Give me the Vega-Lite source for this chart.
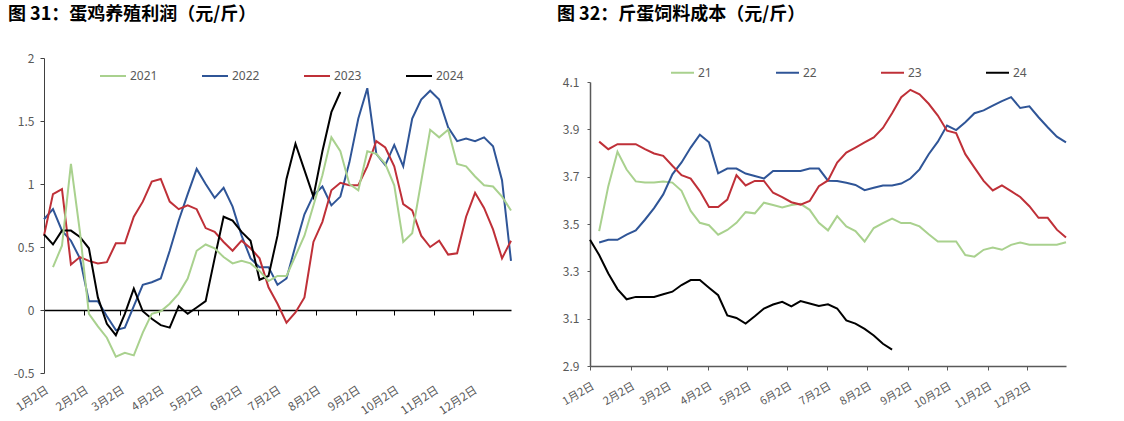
{
  "$schema": "https://vega.github.io/schema/vega-lite/v6.json",
  "background": "white",
  "padding": {"left": 8, "top": 6, "right": 0, "bottom": 0},
  "spacing": 42,
  "bounds": "full",
  "config": {
    "view": {"stroke": null},
    "locale": {"number": {"decimal": ".", "thousands": ",", "grouping": [3], "currency": ["", ""], "minus": "-"}},
    "axis": {"labelFont": "Noto Sans CJK SC", "labelFontSize": 12, "labelColor": "#595959", "domainColor": "#595959", "tickColor": "#595959", "grid": false, "title": null, "labelOverlap": false}
  },
  "datasets": {
    "profit": [
      {"d": "2023/01/02", "2021": null, "2022": 0.72, "2023": 0.59, "2024": 0.60},
      {"d": "2023/01/09", "2021": 0.34, "2022": 0.80, "2023": 0.92, "2024": 0.52},
      {"d": "2023/01/16", "2021": 0.51, "2022": 0.63, "2023": 0.96, "2024": 0.63},
      {"d": "2023/01/23", "2021": 1.16, "2022": 0.55, "2023": 0.36, "2024": 0.63},
      {"d": "2023/01/30", "2021": 0.62, "2022": 0.41, "2023": 0.42, "2024": 0.58},
      {"d": "2023/02/06", "2021": -0.03, "2022": 0.07, "2023": 0.39, "2024": 0.49},
      {"d": "2023/02/13", "2021": -0.13, "2022": 0.07, "2023": 0.37, "2024": 0.10},
      {"d": "2023/02/20", "2021": -0.22, "2022": -0.05, "2023": 0.38, "2024": -0.11},
      {"d": "2023/02/27", "2021": -0.37, "2022": -0.16, "2023": 0.53, "2024": -0.20},
      {"d": "2023/03/06", "2021": -0.34, "2022": -0.14, "2023": 0.53, "2024": -0.03},
      {"d": "2023/03/13", "2021": -0.36, "2022": 0.03, "2023": 0.74, "2024": 0.17},
      {"d": "2023/03/20", "2021": -0.18, "2022": 0.20, "2023": 0.86, "2024": -0.01},
      {"d": "2023/03/27", "2021": -0.03, "2022": 0.22, "2023": 1.02, "2024": -0.07},
      {"d": "2023/04/03", "2021": -0.01, "2022": 0.25, "2023": 1.04, "2024": -0.12},
      {"d": "2023/04/10", "2021": 0.05, "2022": 0.47, "2023": 0.86, "2024": -0.14},
      {"d": "2023/04/17", "2021": 0.13, "2022": 0.71, "2023": 0.80, "2024": 0.03},
      {"d": "2023/04/24", "2021": 0.25, "2022": 0.92, "2023": 0.83, "2024": -0.03},
      {"d": "2023/05/01", "2021": 0.47, "2022": 1.12, "2023": 0.80, "2024": 0.02},
      {"d": "2023/05/08", "2021": 0.52, "2022": 1.00, "2023": 0.65, "2024": 0.07},
      {"d": "2023/05/15", "2021": 0.49, "2022": 0.89, "2023": 0.62, "2024": 0.41},
      {"d": "2023/05/22", "2021": 0.42, "2022": 0.97, "2023": 0.54, "2024": 0.74},
      {"d": "2023/05/29", "2021": 0.37, "2022": 0.82, "2023": 0.47, "2024": 0.71},
      {"d": "2023/06/05", "2021": 0.39, "2022": 0.59, "2023": 0.55, "2024": 0.62},
      {"d": "2023/06/12", "2021": 0.37, "2022": 0.41, "2023": 0.49, "2024": 0.55},
      {"d": "2023/06/19", "2021": 0.31, "2022": 0.34, "2023": 0.41, "2024": 0.24},
      {"d": "2023/06/26", "2021": 0.23, "2022": 0.34, "2023": 0.18, "2024": 0.27},
      {"d": "2023/07/03", "2021": 0.27, "2022": 0.20, "2023": 0.05, "2024": 0.59},
      {"d": "2023/07/10", "2021": 0.27, "2022": 0.25, "2023": -0.10, "2024": 1.04},
      {"d": "2023/07/17", "2021": 0.43, "2022": 0.51, "2023": -0.02, "2024": 1.32},
      {"d": "2023/07/24", "2021": 0.59, "2022": 0.76, "2023": 0.10, "2024": 1.11},
      {"d": "2023/07/31", "2021": 0.83, "2022": 0.91, "2023": 0.54, "2024": 0.90},
      {"d": "2023/08/07", "2021": 1.07, "2022": 0.98, "2023": 0.70, "2024": 1.26},
      {"d": "2023/08/14", "2021": 1.37, "2022": 0.83, "2023": 0.95, "2024": 1.57},
      {"d": "2023/08/21", "2021": 1.26, "2022": 0.90, "2023": 1.01, "2024": 1.73},
      {"d": "2023/08/28", "2021": 1.00, "2022": 1.17, "2023": 0.99, "2024": null},
      {"d": "2023/09/04", "2021": 0.95, "2022": 1.52, "2023": 0.99, "2024": null},
      {"d": "2023/09/11", "2021": 1.26, "2022": 1.76, "2023": 1.14, "2024": null},
      {"d": "2023/09/18", "2021": 1.24, "2022": 1.24, "2023": 1.34, "2024": null},
      {"d": "2023/09/25", "2021": 1.16, "2022": 1.15, "2023": 1.29, "2024": null},
      {"d": "2023/10/02", "2021": 0.99, "2022": 1.31, "2023": 1.14, "2024": null},
      {"d": "2023/10/09", "2021": 0.54, "2022": 1.14, "2023": 0.84, "2024": null},
      {"d": "2023/10/16", "2021": 0.61, "2022": 1.52, "2023": 0.79, "2024": null},
      {"d": "2023/10/23", "2021": null, "2022": 1.67, "2023": 0.59, "2024": null},
      {"d": "2023/10/30", "2021": 1.43, "2022": 1.74, "2023": 0.50, "2024": null},
      {"d": "2023/11/06", "2021": 1.37, "2022": 1.67, "2023": 0.55, "2024": null},
      {"d": "2023/11/13", "2021": 1.43, "2022": 1.45, "2023": 0.44, "2024": null},
      {"d": "2023/11/20", "2021": 1.16, "2022": 1.34, "2023": 0.45, "2024": null},
      {"d": "2023/11/27", "2021": 1.14, "2022": 1.36, "2023": 0.74, "2024": null},
      {"d": "2023/12/04", "2021": 1.06, "2022": 1.34, "2023": 0.93, "2024": null},
      {"d": "2023/12/11", "2021": 0.99, "2022": 1.37, "2023": 0.81, "2024": null},
      {"d": "2023/12/18", "2021": 0.98, "2022": 1.30, "2023": 0.64, "2024": null},
      {"d": "2023/12/25", "2021": 0.90, "2022": 1.03, "2023": 0.41, "2024": null},
      {"d": "2024/01/01", "2021": 0.79, "2022": 0.39, "2023": 0.55, "2024": null}
    ],
    "cost": [
      {"d": "2023/01/02", "21": null, "22": null, "23": null, "24": 3.433},
      {"d": "2023/01/09", "21": 3.47, "22": 3.422, "23": 3.848, "24": 3.369},
      {"d": "2023/01/16", "21": 3.66, "22": 3.433, "23": 3.816, "24": 3.291},
      {"d": "2023/01/23", "21": 3.805, "22": 3.433, "23": 3.837, "24": 3.225},
      {"d": "2023/01/30", "21": 3.73, "22": 3.455, "23": 3.837, "24": 3.182},
      {"d": "2023/02/06", "21": 3.68, "22": 3.473, "23": 3.837, "24": 3.192},
      {"d": "2023/02/13", "21": 3.675, "22": 3.518, "23": 3.816, "24": 3.192},
      {"d": "2023/02/20", "21": 3.675, "22": 3.567, "23": 3.798, "24": 3.192},
      {"d": "2023/02/27", "21": 3.68, "22": 3.625, "23": 3.788, "24": 3.203},
      {"d": "2023/03/06", "21": 3.675, "22": 3.71, "23": 3.746, "24": 3.214},
      {"d": "2023/03/13", "21": 3.64, "22": 3.76, "23": 3.706, "24": 3.242},
      {"d": "2023/03/20", "21": 3.555, "22": 3.823, "23": 3.692, "24": 3.263},
      {"d": "2023/03/27", "21": 3.505, "22": 3.877, "23": 3.639, "24": 3.263},
      {"d": "2023/04/03", "21": 3.495, "22": 3.845, "23": 3.572, "24": 3.231},
      {"d": "2023/04/10", "21": 3.455, "22": 3.714, "23": 3.572, "24": 3.199},
      {"d": "2023/04/17", "21": 3.475, "22": 3.734, "23": 3.603, "24": 3.114},
      {"d": "2023/04/24", "21": 3.505, "22": 3.734, "23": 3.706, "24": 3.103},
      {"d": "2023/05/01", "21": 3.55, "22": 3.713, "23": 3.663, "24": 3.079},
      {"d": "2023/05/08", "21": 3.545, "22": 3.703, "23": 3.682, "24": 3.11},
      {"d": "2023/05/15", "21": 3.59, "22": 3.692, "23": 3.682, "24": 3.143},
      {"d": "2023/05/22", "21": 3.58, "22": 3.724, "23": 3.632, "24": 3.16},
      {"d": "2023/05/29", "21": 3.57, "22": 3.724, "23": 3.614, "24": 3.171},
      {"d": "2023/06/05", "21": 3.58, "22": 3.724, "23": 3.592, "24": 3.152},
      {"d": "2023/06/12", "21": 3.585, "22": 3.724, "23": 3.582, "24": 3.174},
      {"d": "2023/06/19", "21": 3.56, "22": 3.734, "23": 3.597, "24": 3.164},
      {"d": "2023/06/26", "21": 3.505, "22": 3.734, "23": 3.66, "24": 3.154},
      {"d": "2023/07/03", "21": 3.473, "22": 3.683, "23": 3.684, "24": 3.161},
      {"d": "2023/07/10", "21": 3.533, "22": 3.682, "23": 3.76, "24": 3.143},
      {"d": "2023/07/17", "21": 3.49, "22": 3.674, "23": 3.802, "24": 3.093},
      {"d": "2023/07/24", "21": 3.47, "22": 3.665, "23": 3.823, "24": 3.079},
      {"d": "2023/07/31", "21": 3.426, "22": 3.643, "23": 3.845, "24": 3.057},
      {"d": "2023/08/07", "21": 3.483, "22": 3.653, "23": 3.866, "24": 3.029},
      {"d": "2023/08/14", "21": 3.504, "22": 3.663, "23": 3.906, "24": 2.994},
      {"d": "2023/08/21", "21": 3.523, "22": 3.663, "23": 3.968, "24": 2.969},
      {"d": "2023/08/28", "21": 3.504, "22": 3.671, "23": 4.036, "24": null},
      {"d": "2023/09/04", "21": 3.504, "22": 3.692, "23": 4.067, "24": null},
      {"d": "2023/09/11", "21": 3.49, "22": 3.731, "23": 4.048, "24": null},
      {"d": "2023/09/18", "21": 3.457, "22": 3.795, "23": 4.008, "24": null},
      {"d": "2023/09/25", "21": 3.426, "22": 3.848, "23": 3.958, "24": null},
      {"d": "2023/10/02", "21": 3.426, "22": 3.916, "23": 3.894, "24": null},
      {"d": "2023/10/09", "21": 3.426, "22": 3.897, "23": 3.884, "24": null},
      {"d": "2023/10/16", "21": 3.369, "22": 3.93, "23": 3.795, "24": null},
      {"d": "2023/10/23", "21": 3.362, "22": 3.968, "23": 3.738, "24": null},
      {"d": "2023/10/30", "21": 3.391, "22": 3.98, "23": 3.682, "24": null},
      {"d": "2023/11/06", "21": 3.401, "22": 4.0, "23": 3.642, "24": null},
      {"d": "2023/11/13", "21": 3.391, "22": 4.019, "23": 3.663, "24": null},
      {"d": "2023/11/20", "21": 3.412, "22": 4.036, "23": 3.639, "24": null},
      {"d": "2023/11/27", "21": 3.422, "22": 3.99, "23": 3.614, "24": null},
      {"d": "2023/12/04", "21": 3.412, "22": 3.997, "23": 3.575, "24": null},
      {"d": "2023/12/11", "21": 3.412, "22": 3.951, "23": 3.526, "24": null},
      {"d": "2023/12/18", "21": 3.412, "22": 3.909, "23": 3.526, "24": null},
      {"d": "2023/12/25", "21": 3.412, "22": 3.869, "23": 3.476, "24": null},
      {"d": "2024/01/01", "21": 3.423, "22": 3.845, "23": 3.443, "24": null}
    ]
  },
  "hconcat": [
    {
      "width": 467,
      "height": 315,
      "title": {"text": "图 31：蛋鸡养殖利润（元/斤）", "anchor": "start", "frame": "group", "dx": -36, "offset": 28, "fontSize": 18, "font": "Noto Sans CJK SC", "fontWeight": "bold", "color": "#000000"},
      "data": {"name": "profit"},
      "transform": [
        {"fold": ["2021", "2022", "2023", "2024"], "as": ["s", "v"]},
        {"filter": "isValid(datum.v)"}
      ],
      "mark": {"type": "line", "strokeWidth": 2},
      "encoding": {
        "x": {
          "field": "d", "type": "temporal",
          "scale": {"domain": [{"year": 2023, "month": 1, "date": 2}, {"year": 2024, "month": 1, "date": 1}], "nice": false},
          "axis": {
            "values": [
              {"year": 2023, "month": 1, "date": 2}, {"year": 2023, "month": 2, "date": 2}, {"year": 2023, "month": 3, "date": 2},
              {"year": 2023, "month": 4, "date": 2}, {"year": 2023, "month": 5, "date": 2}, {"year": 2023, "month": 6, "date": 2},
              {"year": 2023, "month": 7, "date": 2}, {"year": 2023, "month": 8, "date": 2}, {"year": 2023, "month": 9, "date": 2},
              {"year": 2023, "month": 10, "date": 2}, {"year": 2023, "month": 11, "date": 2}, {"year": 2023, "month": 12, "date": 2}
            ],
            "format": "%-m月%-d日", "labelAngle": -33, "labelFontSize": 11.5, "offset": -63, "tickSize": 5, "labelPadding": 69,
            "domainColor": "#000000", "tickColor": "#000000", "domainWidth": 1.5
          }
        },
        "y": {
          "field": "v", "type": "quantitative",
          "scale": {"domain": [-0.5, 2], "nice": false},
          "axis": {"values": [-0.5, 0, 0.5, 1, 1.5, 2], "format": "~g", "tickSize": 4, "labelPadding": 6, "domainColor": "#404040", "tickColor": "#404040"}
        },
        "color": {
          "field": "s", "type": "nominal",
          "scale": {"domain": ["2021", "2022", "2023", "2024"], "range": ["#A9D18E", "#2F5597", "#BF3038", "#000000"]},
          "legend": {"orient": "none", "legendX": 55, "legendY": 4, "direction": "horizontal", "columns": 4, "columnPadding": 40, "symbolType": "stroke", "symbolSize": 676, "symbolStrokeWidth": 2, "labelFont": "Noto Sans", "labelFontSize": 12, "labelColor": "#595959", "labelOffset": 3, "title": null}
        }
      }
    },
    {
      "width": 476,
      "height": 308,
      "title": {"text": "图 32：斤蛋饲料成本（元/斤）", "anchor": "start", "frame": "group", "dx": -33, "offset": 34, "fontSize": 18, "font": "Noto Sans CJK SC", "fontWeight": "bold", "color": "#000000"},
      "data": {"name": "cost"},
      "transform": [
        {"fold": ["21", "22", "23", "24"], "as": ["s", "v"]},
        {"filter": "isValid(datum.v)"}
      ],
      "mark": {"type": "line", "strokeWidth": 2},
      "encoding": {
        "x": {
          "field": "d", "type": "temporal",
          "scale": {"domain": [{"year": 2023, "month": 1, "date": 2}, {"year": 2024, "month": 1, "date": 1}], "nice": false},
          "axis": {
            "values": [
              {"year": 2023, "month": 1, "date": 2}, {"year": 2023, "month": 2, "date": 2}, {"year": 2023, "month": 3, "date": 2},
              {"year": 2023, "month": 4, "date": 2}, {"year": 2023, "month": 5, "date": 2}, {"year": 2023, "month": 6, "date": 2},
              {"year": 2023, "month": 7, "date": 2}, {"year": 2023, "month": 8, "date": 2}, {"year": 2023, "month": 9, "date": 2},
              {"year": 2023, "month": 10, "date": 2}, {"year": 2023, "month": 11, "date": 2}, {"year": 2023, "month": 12, "date": 2}
            ],
            "format": "%-m月%-d日", "labelAngle": -30, "labelFontSize": 11, "tickSize": 4, "labelPadding": 10, "domainWidth": 1.5
          }
        },
        "y": {
          "field": "v", "type": "quantitative",
          "scale": {"domain": [2.9, 4.1], "nice": false, "range": [308, 24]},
          "axis": {"values": [2.9, 3.1, 3.3, 3.5, 3.7, 3.9, 4.1], "format": ".1f", "tickSize": 3, "labelPadding": 8, "domainWidth": 1.5}
        },
        "color": {
          "field": "s", "type": "nominal",
          "scale": {"domain": ["21", "22", "23", "24"], "range": ["#A9D18E", "#2F5597", "#BF3038", "#000000"]},
          "legend": {"orient": "none", "legendX": 80, "legendY": 2, "direction": "horizontal", "columns": 4, "columnPadding": 60, "symbolType": "stroke", "symbolSize": 529, "symbolStrokeWidth": 2, "labelFont": "Noto Sans", "labelFontSize": 12, "labelColor": "#595959", "labelOffset": 3, "title": null}
        }
      }
    }
  ],
  "resolve": {"scale": {"color": "independent", "x": "independent", "y": "independent"}}
}
